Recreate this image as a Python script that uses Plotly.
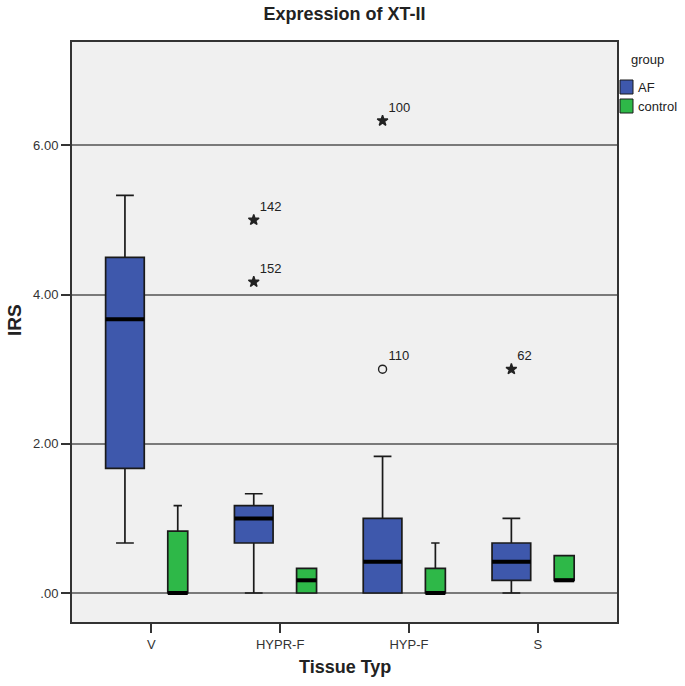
import plotly.graph_objects as go

# ---------------- data ----------------
categories = ["V", "HYPR-F", "HYP-F", "S"]
groups = ["AF", "control"]

af_lower = [0.67, 0.0, 0.0, 0.0]
af_q1 = [1.67, 0.67, 0.0, 0.17]
af_median = [3.67, 1.0, 0.42, 0.42]
af_q3 = [4.5, 1.17, 1.0, 0.67]
af_upper = [5.33, 1.33, 1.83, 1.0]

ctrl_lower = [0.0, 0.0, 0.0, 0.17]
ctrl_q1 = [0.0, 0.0, 0.0, 0.17]
ctrl_median = [0.0, 0.17, 0.0, 0.17]
ctrl_q3 = [0.83, 0.33, 0.33, 0.5]
ctrl_upper = [1.17, 0.33, 0.67, 0.5]

outlier_category = ["HYPR-F", "HYPR-F", "HYP-F", "HYP-F", "S"]
outlier_value = [5.0, 4.17, 6.33, 3.0, 3.0]
outlier_case = ["142", "152", "100", "110", "62"]
outlier_kind = ["extreme", "extreme", "extreme", "outlier", "extreme"]

y_tick_values = [0, 2, 4, 6]
y_tick_labels = [".00", "2.00", "4.00", "6.00"]

# ---------------- style ----------------
W, H = 685, 686
ML, MR, MT, MB = 72, 68, 42, 64
PW, PH = W - ML - MR, H - MT - MB

AF_COLOR = "#3E58AC"
CTRL_COLOR = "#2EB848"
AF_OFF, CTRL_OFF = -0.205, 0.205
AF_W, CTRL_W = 0.30, 0.155
TEXT = "#222222"
FONT = "Liberation Sans, Arial, sans-serif"


def px_x(p):
    return (p - ML) / PW


def px_y(p):
    return (H - MB - p) / PH


cat_idx = list(range(len(categories)))
af_x = [i + AF_OFF for i in cat_idx]
ctrl_x = [i + CTRL_OFF for i in cat_idx]

fig = go.Figure()

for name, xs, w, col, lo, q1, med, q3, up, ww in [
    ("AF", af_x, AF_W, AF_COLOR, af_lower, af_q1, af_median, af_q3, af_upper, 0.46),
    ("control", ctrl_x, CTRL_W, CTRL_COLOR, ctrl_lower, ctrl_q1, ctrl_median, ctrl_q3, ctrl_upper, 0.42),
]:
    fig.add_trace(go.Box(
        name=name, x=xs, q1=q1, median=med, q3=q3,
        lowerfence=lo, upperfence=up, width=w,
        fillcolor=col, line=dict(color="#1a1a1a", width=1.7),
        whiskerwidth=ww, boxpoints=False, showlegend=False,
    ))
    # thick median bars
    mx, my = [], []
    for c, m in zip(xs, med):
        mx += [c - w / 2, c + w / 2, None]
        my += [m, m, None]
    fig.add_trace(go.Scatter(x=mx, y=my, mode="lines",
                             line=dict(color="black", width=4),
                             showlegend=False, hoverinfo="skip"))

# outliers (all belong to AF group)
ox = [categories.index(c) + AF_OFF for c in outlier_category]
symbols = ["star" if k == "extreme" else "circle-open" for k in outlier_kind]
fig.add_trace(go.Scatter(
    x=ox, y=outlier_value, mode="markers+text", text=outlier_case,
    textposition="top right",
    textfont=dict(family=FONT, size=13, color=TEXT),
    marker=dict(symbol=symbols, size=8, color=TEXT, line=dict(color=TEXT, width=1.4)),
    showlegend=False, cliponaxis=False,
))

fig.update_layout(
    width=W, height=H,
    margin=dict(l=ML, r=MR, t=MT, b=MB),
    paper_bgcolor="white", plot_bgcolor="#F0F0F0",
    boxmode="overlay",
    font=dict(family=FONT, color=TEXT),
    title=dict(text="<b>Expression of XT-II</b>", x=px_x(344.5), xref="paper",
               xanchor="center", y=1 - 14 / H, yref="container", yanchor="middle",
               font=dict(size=18, color=TEXT)),
    showlegend=False,
)

fig.update_xaxes(
    range=[-0.616, 3.615], tickvals=cat_idx, ticktext=categories,
    showgrid=False, zeroline=False,
    ticks="outside", ticklen=9, tickwidth=1.5, tickcolor="#333",
    showline=True, mirror=True, linecolor="#333", linewidth=2,
    tickfont=dict(size=13, color="#333"),
)
fig.update_yaxes(
    range=[-0.389, 7.386], tickvals=y_tick_values, ticktext=y_tick_labels,
    showgrid=True, gridcolor="#7a7a7a", gridwidth=1.5, zeroline=False,
    ticks="outside", ticklen=9, tickwidth=1.5, tickcolor="#333",
    showline=True, mirror=True, linecolor="#333", linewidth=2,
    tickfont=dict(size=13, color="#333"),
)

# axis titles
fig.add_annotation(text="<b>Tissue Typ</b>", xref="paper", yref="paper",
                   x=px_x(344.5), y=px_y(667), showarrow=False,
                   xanchor="center", yanchor="middle", font=dict(size=18, color=TEXT))
fig.add_annotation(text="<b>IRS</b>", xref="paper", yref="paper",
                   x=px_x(14), y=px_y(320), showarrow=False, textangle=-90,
                   xanchor="center", yanchor="middle", font=dict(size=19, color=TEXT))

# legend (drawn manually to fit the narrow right margin)
fig.add_annotation(text="group", xref="paper", yref="paper",
                   x=px_x(629), y=px_y(60), showarrow=False,
                   xanchor="left", yanchor="middle", font=dict(size=13, color=TEXT))
for gname, col, ytop in [(groups[0], AF_COLOR, 80), (groups[1], CTRL_COLOR, 99)]:
    fig.add_shape(type="rect", xref="paper", yref="paper",
                  x0=px_x(620), x1=px_x(633), y0=px_y(ytop + 14), y1=px_y(ytop),
                  fillcolor=col, line=dict(color="#1a1a1a", width=1))
    fig.add_annotation(text=gname, xref="paper", yref="paper",
                       x=px_x(636), y=px_y(ytop + 7), showarrow=False,
                       xanchor="left", yanchor="middle", font=dict(size=13, color=TEXT))

fig.write_html("out.html", config={"displayModeBar": False},
               post_script="document.body.style.margin='0';document.body.style.overflow='hidden';")
